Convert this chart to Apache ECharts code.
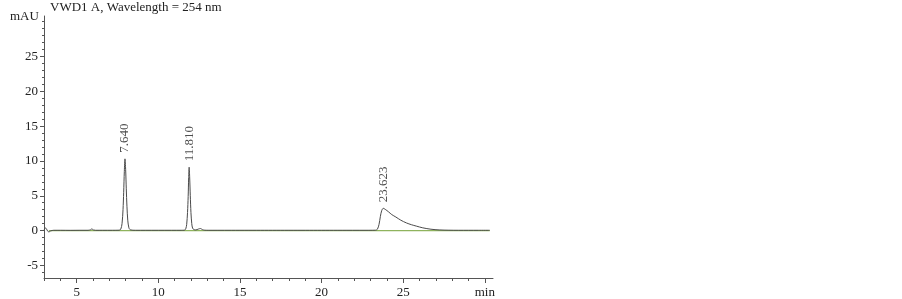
<!DOCTYPE html>
<html>
<head>
<meta charset="utf-8">
<script src="https://cdn.jsdelivr.net/npm/echarts@6/dist/echarts.min.js"></script>
<style>
html,body{margin:0;padding:0;background:#fff;}
#chart{width:902px;height:299px;}
</style>
</head>
<body>
<div id="chart"></div>
<script>
// ---- data ----
var titleText = 'VWD1 A, Wavelength = 254 nm';
var yUnit = 'mAU';
var xUnit = 'min';
var xMajorTicks = [5, 10, 15, 20, 25, 30];
var yMajorTicks = [-5, 0, 5, 10, 15, 20, 25];
var xMinorTicks = [3,4,5,6,7,8,9,10,11,12,13,14,15,16,17,18,19,20,21,22,23,24,25,26,27,28,29,30];
var yMinorTicks = [-6,-5,-4,-3,-2,-1,0,1,2,3,4,5,6,7,8,9,10,11,12,13,14,15,16,17,18,19,20,21,22,23,24,25,26,27,28,29,30];
// chromatogram trace [time (min), signal (mAU)]
var trace = [
  [3.00,0.00],[3.08,0.40],[3.15,0.25],[3.22,-0.05],[3.30,-0.20],[3.40,-0.05],[3.60,0.05],
  [4.00,0.05],[4.60,0.04],[5.20,0.05],[5.70,0.05],[5.85,0.12],[5.93,0.25],[6.02,0.10],[6.15,0.05],
  [6.60,0.05],[7.20,0.05],[7.60,0.06],[7.70,0.20],[7.78,1.00],[7.84,3.00],[7.88,5.50],[7.92,8.50],
  [7.96,10.30],[8.00,8.80],[8.04,6.00],[8.08,3.50],[8.13,1.50],[8.20,0.40],[8.30,0.10],[8.60,0.05],
  [9.20,0.05],[10.00,0.05],[10.80,0.05],[11.40,0.05],[11.60,0.06],[11.68,0.25],[11.74,0.90],
  [11.79,2.60],[11.83,4.90],[11.86,7.60],[11.89,9.10],[11.92,7.80],[11.96,5.00],[12.00,2.60],
  [12.05,1.00],[12.10,0.35],[12.18,0.15],[12.30,0.10],[12.45,0.22],[12.58,0.30],[12.70,0.15],
  [12.85,0.06],[13.10,0.05],[13.60,0.05],[14.50,0.05],[15.50,0.05],[16.50,0.05],[17.50,0.05],
  [18.50,0.05],[19.50,0.05],[20.50,0.05],[21.50,0.05],[22.30,0.05],[22.90,0.05],[23.30,0.06],
  [23.42,0.20],[23.52,0.90],[23.60,2.00],[23.68,2.85],[23.78,3.20],[23.90,3.05],[24.10,2.70],
  [24.30,2.30],[24.55,1.95],[24.85,1.50],[25.20,1.10],[25.50,0.85],[25.80,0.65],[26.20,0.40],
  [26.70,0.20],[27.20,0.10],[27.80,0.06],[28.40,0.05],[29.00,0.05],[29.60,0.05],[30.30,0.05]
];
var baseline = [[3.3,0],[30.3,0]];
var peakTimes = [7.96, 11.89, 23.78];
var peakHeights = [10.3, 9.1, 3.2];
var peakLabels = ['7.640', '11.810', '23.623'];

var X_MIN = 3, X_MAX = 30.5, Y_MIN = -6.8, Y_MAX = 30.8;
var FONT = '"Liberation Serif", "DejaVu Serif", serif';
var AXIS_COLOR = '#555';

var peakPoints = peakTimes.map(function (t, i) { return [t, peakHeights[i], peakLabels[i]]; });

var chart = echarts.init(document.getElementById('chart'), null, {renderer: 'canvas'});
chart.setOption({
  animation: false,
  backgroundColor: '#fff',
  grid: {left: 44, right: 409, top: 16, bottom: 21, containLabel: false},
  xAxis: [
    {
      type: 'value', min: X_MIN, max: X_MAX, position: 'bottom',
      axisLine: {show: true, onZero: false, lineStyle: {color: AXIS_COLOR, width: 1}},
      axisTick: {show: true, length: 5, customValues: xMajorTicks, lineStyle: {color: AXIS_COLOR}},
      axisLabel: {
        show: true, customValues: xMajorTicks, margin: 8,
        fontFamily: FONT, fontSize: 13, color: '#222',
        formatter: function (v) { return v === 30 ? xUnit : String(v); }
      },
      splitLine: {show: false}
    },
    {
      type: 'value', min: X_MIN, max: X_MAX, position: 'bottom',
      axisLine: {show: false, onZero: false},
      axisTick: {show: true, length: 3, customValues: xMinorTicks, lineStyle: {color: AXIS_COLOR}},
      axisLabel: {show: false},
      splitLine: {show: false}
    }
  ],
  yAxis: [
    {
      type: 'value', min: Y_MIN, max: Y_MAX, position: 'left',
      axisLine: {show: true, onZero: false, lineStyle: {color: AXIS_COLOR, width: 1}},
      axisTick: {show: true, length: 4, customValues: yMajorTicks, lineStyle: {color: AXIS_COLOR}},
      axisLabel: {
        show: true, customValues: yMajorTicks, margin: 6,
        fontFamily: FONT, fontSize: 13, color: '#222'
      },
      splitLine: {show: false}
    },
    {
      type: 'value', min: Y_MIN, max: Y_MAX, position: 'left',
      axisLine: {show: false, onZero: false},
      axisTick: {show: true, length: 2, customValues: yMinorTicks, lineStyle: {color: AXIS_COLOR}},
      axisLabel: {show: false},
      splitLine: {show: false}
    }
  ],
  graphic: [
    {type: 'text', left: 50, top: 1, style: {text: titleText, font: '13px ' + FONT, fill: '#222'}},
    {type: 'text', left: 10, top: 10, style: {text: yUnit, font: '13px ' + FONT, fill: '#222'}}
  ],
  series: [
    {
      type: 'line', data: baseline, xAxisIndex: 0, yAxisIndex: 0,
      symbol: 'none', lineStyle: {color: '#8fb35e', width: 1.2}, z: 1, silent: true
    },
    {
      type: 'line', data: trace, xAxisIndex: 0, yAxisIndex: 0,
      symbol: 'none', smooth: 0.3, lineStyle: {color: '#4a4a4a', width: 1}, z: 2, silent: true
    },
    {
      type: 'scatter', data: peakPoints, xAxisIndex: 0, yAxisIndex: 0,
      symbolSize: 0, silent: true, z: 3,
      label: {
        show: true, position: 'top', distance: 6, rotate: 90,
        align: 'left', verticalAlign: 'middle',
        fontFamily: FONT, fontSize: 13, color: '#222',
        formatter: function (p) { return p.value[2]; }
      }
    }
  ]
});
</script>
</body>
</html>
